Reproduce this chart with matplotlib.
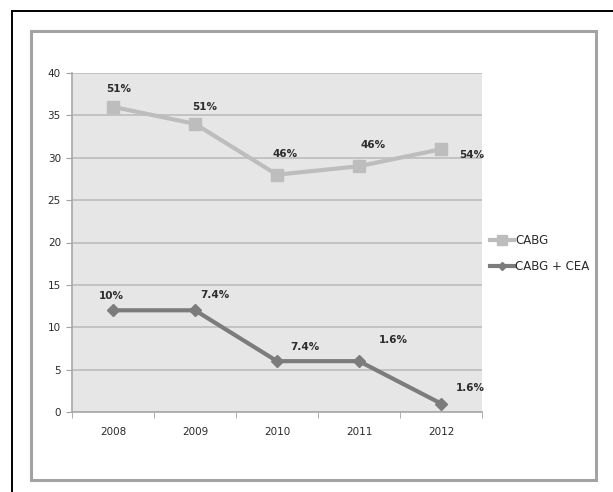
import matplotlib
matplotlib.use("Agg")
import matplotlib.pyplot as plt
from matplotlib.patches import Rectangle
from matplotlib.lines import Line2D
from matplotlib.ticker import FixedLocator

years = ["2008", "2009", "2010", "2011", "2012"]
cabg = [36, 34, 28, 29, 31]
cabg_cea = [12, 12, 6, 6, 1]
cabg_labels = ["51%", "51%", "46%", "46%", "54%"]
cea_labels = ["10%", "7.4%", "7.4%", "1.6%", "1.6%"]
yticks = [0, 5, 10, 15, 20, 25, 30, 35, 40]

W, H = 613, 492
fig = plt.figure(figsize=(W / 100, H / 100), dpi=100)
fig.patch.set_facecolor("white")

# frames around the chart
fig.add_artist(Line2D([12 / W, 12 / W], [0, 1 - 10.5 / H], color="black", lw=1.4))
fig.add_artist(Line2D([12 / W, 1], [1 - 10.5 / H, 1 - 10.5 / H], color="black", lw=1.4))
fig.add_artist(Rectangle((31 / W, 1 - 480 / H), (596 - 31) / W, (480 - 31) / H,
                         fill=False, edgecolor="#a3a3a3", lw=2.2))

ax = fig.add_axes([72 / W, 1 - 412 / H, (482 - 72) / W, (412 - 73) / H])
ax.set_facecolor("#e6e6e6")
x = list(range(len(years)))

ax.plot(x, cabg, color="#bdbdbd", lw=3, marker="s", ms=9, label="CABG", zorder=3)
ax.plot(x, cabg_cea, color="#7c7c7c", lw=3, marker="D", ms=6, label="CABG + CEA", zorder=3)

cabg_off = [(4, 13), (7, 12), (6, 15), (10, 15), (22, -4)]
cea_off = [(-1, 10), (14, 11), (20, 10), (25, 15), (21, 11)]
for i in x:
    ax.annotate(cabg_labels[i], (i, cabg[i]), xytext=cabg_off[i], textcoords="offset points",
                ha="center", va="center", fontsize=7.5, fontweight="bold", color="#2b2b2b")
    ax.annotate(cea_labels[i], (i, cabg_cea[i]), xytext=cea_off[i], textcoords="offset points",
                ha="center", va="center", fontsize=7.5, fontweight="bold", color="#2b2b2b")

ax.set_xlim(-0.5, len(years) - 0.5)
ax.set_ylim(0, 40)
ax.set_yticks(yticks)
ax.set_yticklabels([str(v) for v in yticks], fontsize=7.5, color="#2b2b2b")
ax.set_xticks(x)
ax.set_xticklabels(years, fontsize=7.5, color="#2b2b2b")
ax.tick_params(axis="x", length=0, pad=11)
ax.xaxis.set_minor_locator(FixedLocator([i - 0.5 for i in range(len(years) + 1)]))
ax.tick_params(axis="x", which="minor", length=4, color="#a0a0a0")
ax.tick_params(axis="y", length=4, color="#a0a0a0", pad=4)
ax.grid(axis="y", color="#bdbdbd", lw=1.2)
ax.set_axisbelow(True)
for s in ["top", "right"]:
    ax.spines[s].set_visible(False)
for s in ["left", "bottom"]:
    ax.spines[s].set_color("#a8a8a8")
    ax.spines[s].set_linewidth(1.2)

leg = ax.legend(loc="center left", bbox_to_anchor=(1.0, 0.467), frameon=False,
                fontsize=8.5, handlelength=2.0, handletextpad=0.1, labelspacing=1.1,
                markerscale=0.75, borderpad=0.2)
for t in leg.get_texts():
    t.set_color("#2b2b2b")

fig.savefig("out.png", dpi=100)
